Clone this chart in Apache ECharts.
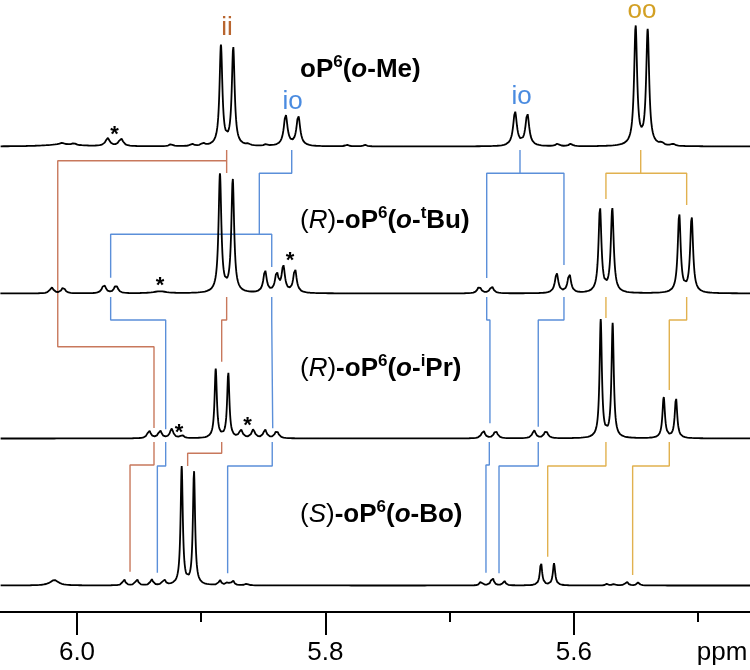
<!DOCTYPE html>
<html><head><meta charset="utf-8">
<script src="https://cdn.jsdelivr.net/npm/echarts@6/dist/echarts.min.js"></script>
<style>html,body{margin:0;padding:0;background:#fff}#c{width:750px;height:670px}</style>
</head><body><div id="c"></div>
<script>
// ---------- DATA ----------
// Peak lists: [chemical shift (ppm), intensity, half-width (ppm)]
const peaksMe = [
  [6.0121, 2.0, 0.0160], [6.0121, 1.5, 0.0020], [6.0024, 1.8, 0.0016],
  [5.9753, 8.0, 0.0020], [5.9646, 7.8, 0.0020],
  [5.9243, 2.0, 0.0016], [5.9074, 2.0, 0.0016], [5.8986, 2.5, 0.0016],
  [5.8841, 100, 0.00137], [5.8742, 98, 0.00137],
  [5.8623, 1.5, 0.0016], [5.8478, 1.5, 0.0016],
  [5.8320, 31, 0.0018], [5.8218, 30, 0.0018],
  [5.7826, 1.5, 0.0016], [5.7681, 1.5, 0.0016],
  [5.6473, 34, 0.0018], [5.6374, 32, 0.0018],
  [5.6130, 2.5, 0.0016], [5.6025, 2.5, 0.0016],
  [5.5502, 119, 0.00145], [5.5405, 115, 0.00145],
  [5.5292, 2.5, 0.0016], [5.5201, 2.0, 0.0016]
];
const peaksTBu = [
  [6.0204, 6.0, 0.0017], [6.0110, 6.0, 0.0017],
  [5.9783, 9.0, 0.0017], [5.9686, 8.5, 0.0017],
  [5.9332, 2.0, 0.0065],
  [5.8849, 118, 0.00135], [5.8746, 113, 0.00135],
  [5.8486, 22, 0.0016], [5.8392, 19, 0.0016],
  [5.8339, 26, 0.0016], [5.8245, 24, 0.0016],
  [5.6761, 7.0, 0.0017], [5.6661, 7.0, 0.0017],
  [5.6138, 20, 0.0016], [5.6036, 19.5, 0.0016],
  [5.5789, 85, 0.0014], [5.5690, 84, 0.0014],
  [5.5151, 79, 0.0014], [5.5051, 76, 0.0014]
];
const peaksIPr = [
  [5.9420, 8.0, 0.0016], [5.9332, 8.0, 0.0016], [5.9238, 9.5, 0.0016],
  [5.9155, 3.0, 0.0016],
  [5.8883, 69, 0.0011], [5.8782, 65, 0.0011],
  [5.8680, 8.0, 0.0016], [5.8581, 8.5, 0.0016],
  [5.8486, 8.5, 0.0016], [5.8392, 8.0, 0.0016],
  [5.6729, 8.0, 0.0016], [5.6629, 8.0, 0.0016],
  [5.6320, 8.0, 0.0016], [5.6224, 8.0, 0.0016],
  [5.5783, 118, 0.0011], [5.5687, 114, 0.0011],
  [5.5276, 41, 0.0012], [5.5177, 40, 0.0012]
];
const peaksBo = [
  [6.0183, 5.5, 0.0040],
  [5.9622, 6.5, 0.0012], [5.9519, 7.0, 0.0012],
  [5.9399, 6.0, 0.0012], [5.9300, 6.5, 0.0012],
  [5.9157, 118, 0.00105], [5.9058, 114, 0.00105],
  [5.8849, 5.0, 0.0012], [5.8788, 3.0, 0.0012], [5.8746, 5.0, 0.0012],
  [5.8634, 1.5, 0.0016],
  [5.6747, 4.0, 0.0012], [5.6656, 9.0, 0.0012], [5.6560, 4.5, 0.0012],
  [5.6264, 23, 0.0011], [5.6159, 22, 0.0011],
  [5.5733, 1.5, 0.0012], [5.5676, 1.5, 0.0012],
  [5.5574, 4.0, 0.0012], [5.5481, 3.0, 0.0012]
];
const spectra = [peaksMe, peaksTBu, peaksIPr, peaksBo];

// Correlation lines: chemical-shift positions (ppm) of the linked signals
const RED = '#c8785c', BLUE = '#5b8fd9', GOLD = '#e1b14f';
const links = [
  // trace 1 -> trace 2
  {c: RED,  x: [5.8795, 5.8795], y: [150, 173]},
  {c: RED,  x: [5.8795, 6.0155, 6.0155, 5.9380, 5.9380], y: [160.7, 160.7, 346.7, 346.7, 428]},
  {c: BLUE, x: [5.8271, 5.8271, 5.8532, 5.8532], y: [150, 173.3, 173.3, 234.3]},
  {c: BLUE, x: [5.9729, 5.9729, 5.8432, 5.8432], y: [277.7, 234.3, 234.3, 267]},
  {c: BLUE, x: [5.6433, 5.6433], y: [150, 173.3]},
  {c: BLUE, x: [5.6701, 5.6701, 5.6079, 5.6079], y: [278, 173.3, 173.3, 265]},
  {c: GOLD, x: [5.5461, 5.5461], y: [150, 173.3]},
  {c: GOLD, x: [5.5741, 5.5741, 5.5091, 5.5091], y: [199, 173.3, 173.3, 205]},
  // trace 2 -> trace 3
  {c: RED,  x: [5.8795, 5.8795, 5.8835, 5.8835], y: [297, 320, 320, 361.7]},
  {c: BLUE, x: [5.9729, 5.9729, 5.9286, 5.9286], y: [297, 320, 320, 429.3]},
  {c: BLUE, x: [5.8432, 5.8432, 5.8424, 5.8424], y: [297, 320, 320, 428.3]},
  {c: BLUE, x: [5.6701, 5.6701, 5.6675, 5.6675], y: [297, 320, 320, 423.3]},
  {c: BLUE, x: [5.6079, 5.6079, 5.6286, 5.6286], y: [297, 320, 320, 426.7]},
  {c: GOLD, x: [5.5741, 5.5741], y: [297, 318]},
  {c: GOLD, x: [5.5091, 5.5091, 5.5231, 5.5231], y: [297, 320, 320, 390]},
  // trace 3 -> trace 4
  {c: RED,  x: [5.9380, 5.9380, 5.9573, 5.9573], y: [442, 465, 465, 571.7]},
  {c: RED,  x: [5.8835, 5.8835, 5.9109, 5.9109], y: [442, 453.3, 453.3, 466]},
  {c: BLUE, x: [5.9286, 5.9286, 5.9353, 5.9353], y: [442, 466, 466, 572.7]},
  {c: BLUE, x: [5.8428, 5.8428, 5.8787, 5.8787], y: [442, 466, 466, 573.3]},
  {c: BLUE, x: [5.6680, 5.6680, 5.6707, 5.6707], y: [442, 465, 465, 572.7]},
  {c: BLUE, x: [5.6286, 5.6286, 5.6602, 5.6602], y: [442, 466, 466, 573.3]},
  {c: GOLD, x: [5.5741, 5.5741, 5.6210, 5.6210], y: [442, 466, 466, 556.7]},
  {c: GOLD, x: [5.5231, 5.5231, 5.5526, 5.5526], y: [442, 466, 466, 575]}
];
const majorTicks = [6.0, 5.8, 5.6];
const minorTicks = [5.9, 5.7, 5.5];
const axisUnit = 'ppm';

// ---------- LAYOUT ----------
const baselines = [146.5, 293.5, 438.5, 585.5]; // vertical offset of each trace
const xLo = 5.4581, xHi = 6.0620, step = 0.0002;

function buildTrace(peaks, base) {
  const out = [];
  for (let x = xLo; x <= xHi + 1e-9; x += step) {
    let s = 0;
    for (const [c, h, w] of peaks) { const d = (x - c) / w; s += h / (1 + d * d); }
    out.push([x, base - s]);
  }
  return out;
}

const series = [];
links.forEach(l => {
  series.push({type: 'line', data: l.x.map((v, i) => [v, l.y[i]]), showSymbol: false,
    lineStyle: {color: l.c, width: 1.4}, z: 1, silent: true, animation: false});
});
spectra.forEach((p, i) => {
  series.push({type: 'line', data: buildTrace(p, baselines[i]), showSymbol: false,
    lineStyle: {color: '#000', width: 1.8}, z: 5, silent: true, animation: false, sampling: null});
});

const FF = '"Liberation Sans", Arial, Helvetica, sans-serif';
const rich = {
  b: {fontFamily: FF, fontSize: 26, fontWeight: 'bold', fill: '#000', lineHeight: 32},
  bi: {fontFamily: FF, fontSize: 26, fontWeight: 'bold', fontStyle: 'italic', fill: '#000', lineHeight: 32},
  r: {fontFamily: FF, fontSize: 26, fill: '#000', lineHeight: 32},
  ri: {fontFamily: FF, fontSize: 26, fontStyle: 'italic', fill: '#000', lineHeight: 32},
  sup: {fontFamily: FF, fontSize: 17, fontWeight: 'bold', fill: '#000', lineHeight: 17, verticalAlign: 'top'}
};
const names = [
  '{b|oP}{sup|6}{b|(}{bi|o}{b|-Me)}',
  '{r|(}{ri|R}{r|)}{b|-oP}{sup|6}{b|(}{bi|o}{b|-}{sup|t}{b|Bu)}',
  '{r|(}{ri|R}{r|)}{b|-oP}{sup|6}{b|(}{bi|o}{b|-}{sup|i}{b|Pr)}',
  '{r|(}{ri|S}{r|)}{b|-oP}{sup|6}{b|(}{bi|o}{b|-Bo)}'
];
const nameY = [70, 221, 369, 515];
const graphics = [];
names.forEach((t, i) => graphics.push({type: 'text', x: 300, y: nameY[i], z: 10,
  style: {text: t, rich: rich, verticalAlign: 'middle', align: 'left', fill: '#000', fontFamily: FF, fontSize: 26}}));
const tags = [
  {t: 'ii', x: 227, y: 28, c: '#b8652f'},
  {t: 'io', x: 292.5, y: 102, c: '#4a8be0'},
  {t: 'io', x: 521.5, y: 97, c: '#4a8be0'},
  {t: 'oo', x: 642, y: 11, c: '#d3a024'}
];
tags.forEach(g => graphics.push({type: 'text', x: g.x, y: g.y, z: 10,
  style: {text: g.t, fill: g.c, fontFamily: FF, fontSize: 26, align: 'center', verticalAlign: 'middle'}}));
const stars = [[114.5, 135], [160, 286], [290, 261], [179, 433], [247.5, 426]];
stars.forEach(s => graphics.push({type: 'text', x: s[0], y: s[1], z: 10,
  style: {text: '*', fill: '#000', fontFamily: FF, fontSize: 22, fontWeight: 'bold', align: 'center', verticalAlign: 'middle'}}));
graphics.push({type: 'text', x: 722, y: 653, z: 10,
  style: {text: axisUnit, fill: '#000', fontFamily: FF, fontSize: 26, align: 'center', verticalAlign: 'middle'}});

const chart = echarts.init(document.getElementById('c'), null, {renderer: 'canvas'});
const baseX = {type: 'value', inverse: true, min: xLo, max: xHi, splitLine: {show: false}, position: 'bottom'};
chart.setOption({
  animation: false,
  backgroundColor: '#fff',
  grid: {left: 0, right: 0, top: 0, bottom: 58, containLabel: false},
  xAxis: [
    Object.assign({}, baseX, {
      axisLine: {show: true, onZero: false, lineStyle: {color: '#000', width: 2}},
      axisTick: {show: true, length: 23, customValues: majorTicks, lineStyle: {color: '#000', width: 2}},
      axisLabel: {margin: 28, fontSize: 26, color: '#000', fontFamily: FF, customValues: majorTicks,
        formatter: v => Number(v).toFixed(1)}
    }),
    Object.assign({}, baseX, {
      axisLine: {show: false, onZero: false},
      axisTick: {show: true, length: 10, customValues: minorTicks, lineStyle: {color: '#000', width: 2}},
      axisLabel: {show: false}
    })
  ],
  yAxis: {type: 'value', inverse: true, min: 0, max: 612, show: false},
  series: series,
  graphic: graphics
});
</script></body></html>
